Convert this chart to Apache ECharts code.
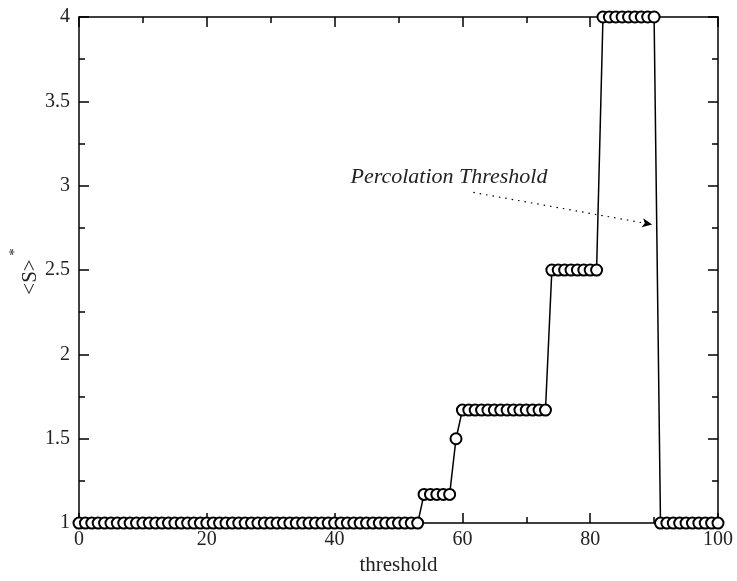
<!DOCTYPE html>
<html>
<head>
<meta charset="utf-8">
<script src="https://cdn.jsdelivr.net/npm/echarts@6/dist/echarts.min.js"></script>
<style>
	html, body { margin: 0; padding: 0; background: #fff; }
	#chart { width: 737px; height: 581px; }
</style>
</head>
<body>
<div id="chart"></div>
<script type="text/javascript">
	// threshold values (x)
	var thresholds = [
		0, 1, 2, 3, 4, 5, 6, 7, 8, 9, 10, 11, 12, 13, 14, 15, 16, 17, 18, 19,
		20, 21, 22, 23, 24, 25, 26, 27, 28, 29, 30, 31, 32, 33, 34, 35, 36, 37, 38, 39,
		40, 41, 42, 43, 44, 45, 46, 47, 48, 49, 50, 51, 52, 53, 54, 55, 56, 57, 58, 59,
		60, 61, 62, 63, 64, 65, 66, 67, 68, 69, 70, 71, 72, 73, 74, 75, 76, 77, 78, 79,
		80, 81, 82, 83, 84, 85, 86, 87, 88, 89, 90, 91, 92, 93, 94, 95, 96, 97, 98, 99, 100
	];
	// <S>*
	var meanSize = [
		1, 1, 1, 1, 1, 1, 1, 1, 1, 1, 1, 1, 1, 1, 1, 1, 1, 1, 1, 1,
		1, 1, 1, 1, 1, 1, 1, 1, 1, 1, 1, 1, 1, 1, 1, 1, 1, 1, 1, 1,
		1, 1, 1, 1, 1, 1, 1, 1, 1, 1, 1, 1, 1, 1, 1.17, 1.17, 1.17, 1.17, 1.17, 1.5,
		1.67, 1.67, 1.67, 1.67, 1.67, 1.67, 1.67, 1.67, 1.67, 1.67, 1.67, 1.67, 1.67, 1.67, 2.5, 2.5, 2.5, 2.5, 2.5, 2.5,
		2.5, 2.5, 4, 4, 4, 4, 4, 4, 4, 4, 4, 1, 1, 1, 1, 1, 1, 1, 1, 1, 1
	];
	var yTicks = [1, 1.5, 2, 2.5, 3, 3.5, 4];
	var xTicks = [0, 20, 40, 60, 80, 100];
	// arrow of the annotation, in data units
	var arrowFrom = [61.7, 2.96];
	var arrowTo = [89.7, 2.77];

	var serif = '"Liberation Serif", "DejaVu Serif", serif';
	var ink = '#222';

	var points = thresholds.map(function (t, i) { return [t, meanSize[i]]; });

	function axisBase(show) {
		return {
			axisLine: { show: true, onZero: false, lineStyle: { color: '#000', width: 1.5 } },
			axisTick: { show: true, inside: true, length: 10, lineStyle: { color: '#000', width: 1.5 } },
			minorTick: { show: true, splitNumber: 2, length: 6, lineStyle: { color: '#000', width: 1.5 } },
			splitLine: { show: false },
			axisLabel: { show: show, color: ink, fontFamily: serif, fontSize: 20 }
		};
	}

	var xb = axisBase(true), xt = axisBase(false), yl = axisBase(true), yr = axisBase(false);
	var common = { type: 'value' };

	var myChart = echarts.init(document.getElementById('chart'));
	var option = {
		animation: false,
		backgroundColor: '#fff',
		grid: { left: 79, right: 19, top: 17, bottom: 51 },
		xAxis: [
			Object.assign({}, common, xb, {
				min: xTicks[0], max: xTicks[xTicks.length - 1], interval: 20, position: 'bottom',
				axisLabel: Object.assign({}, xb.axisLabel, { margin: 7 }),
				name: 'threshold', nameLocation: 'middle', nameGap: 31,
				nameTextStyle: { color: ink, fontFamily: serif, fontSize: 21 }
			}),
			Object.assign({}, common, xt, { min: 0, max: 100, interval: 20, position: 'top' })
		],
		yAxis: [
			Object.assign({}, common, yl, {
				min: yTicks[0], max: yTicks[yTicks.length - 1], interval: 0.5, position: 'left',
				axisLabel: Object.assign({}, yl.axisLabel, { margin: 9 })
			}),
			Object.assign({}, common, yr, { min: 1, max: 4, interval: 0.5, position: 'right' })
		],
		series: [{
			type: 'line',
			data: points,
			clip: false,
			symbol: 'emptyCircle',
			symbolSize: 11,
			itemStyle: { color: '#000', borderWidth: 1.5 },
			lineStyle: { color: '#000', width: 1.5 },
			markLine: {
				silent: true,
				symbol: ['none', 'arrow'],
				symbolSize: [7, 10],
				label: { show: false },
				lineStyle: { color: '#000', width: 1.2, type: [1.5, 5] },
				data: [[{ coord: arrowFrom }, { coord: arrowTo }]]
			}
		}]
	};
	myChart.setOption(option);

	// text pieces: annotation and y axis title
	var tx = myChart.convertToPixel({ xAxisIndex: 0, yAxisIndex: 0 }, [57.9, 3.05]);
	myChart.setOption({
		graphic: [
			{
				type: 'text', x: tx[0], y: tx[1],
				style: { text: 'Percolation Threshold', fill: ink, font: 'italic 22px ' + serif, textAlign: 'center', textVerticalAlign: 'middle' }
			},
			{
				type: 'text', x: 30, y: 277, rotation: Math.PI / 2,
				style: { text: '<S>', fill: ink, font: '21px ' + serif, textAlign: 'center', textVerticalAlign: 'middle' }
			},
			{
				type: 'text', x: 15, y: 252, rotation: Math.PI / 2,
				style: { text: '*', fill: ink, font: '15px ' + serif, textAlign: 'center', textVerticalAlign: 'middle' }
			}
		]
	});
</script>
</body>
</html>
